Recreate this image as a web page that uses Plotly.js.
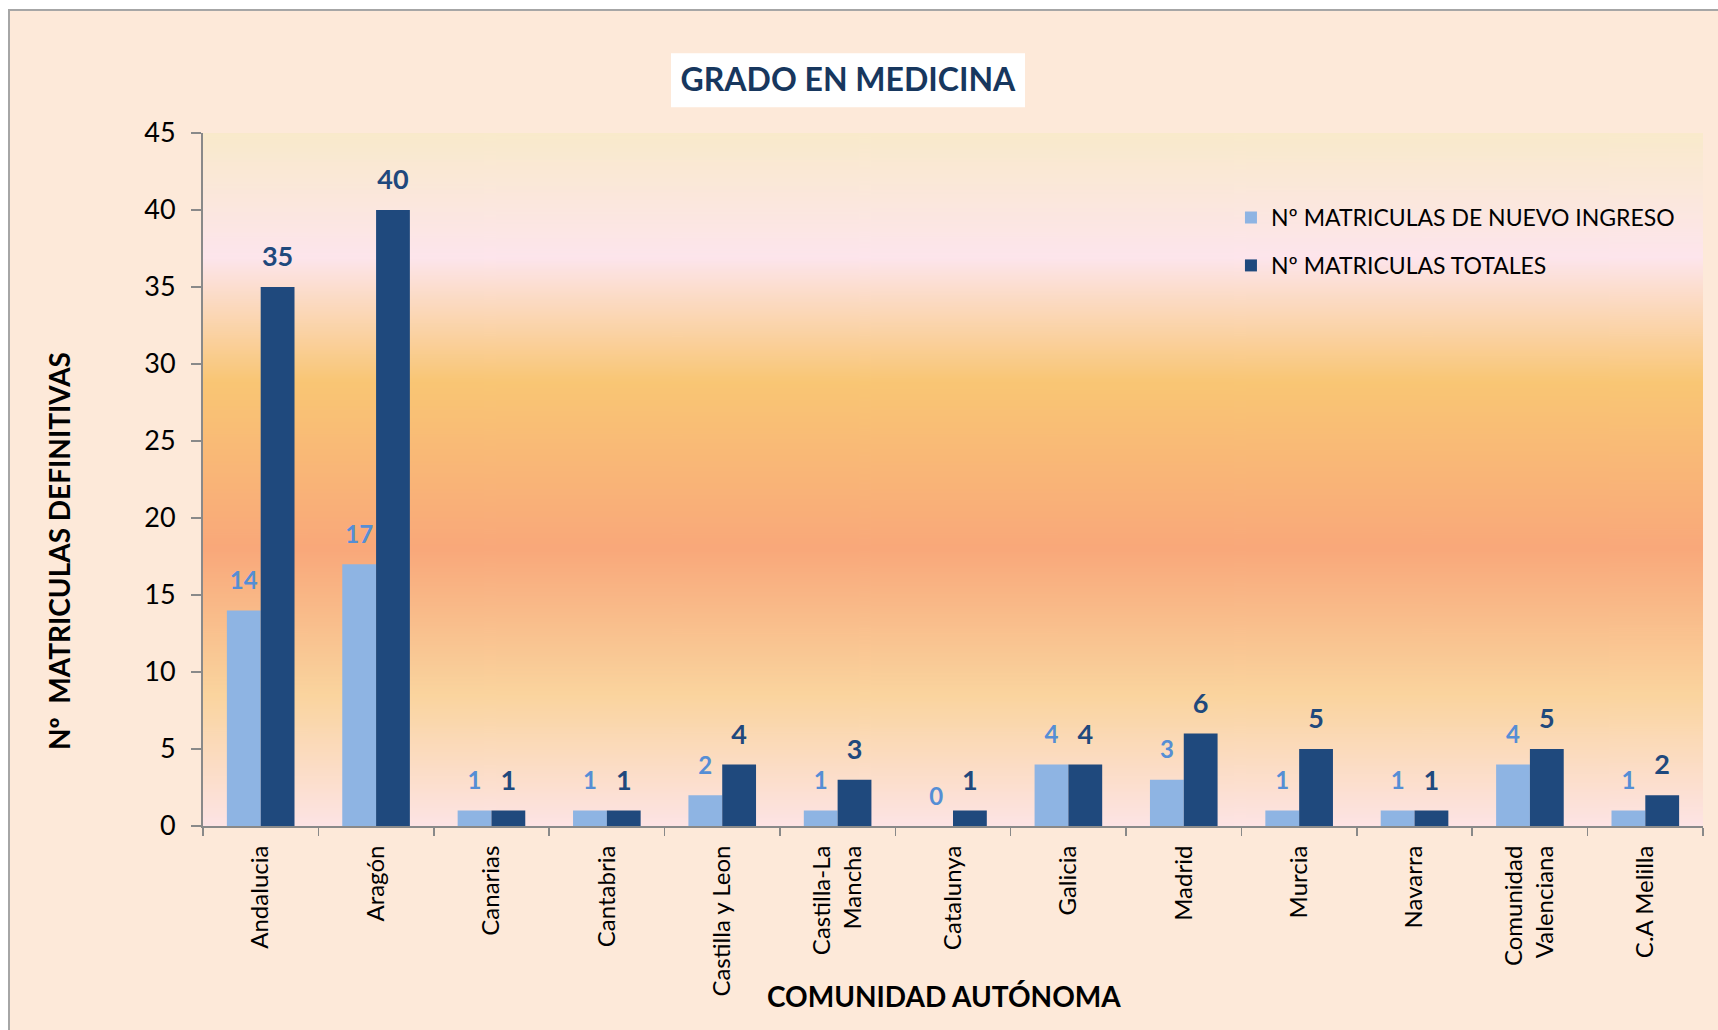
<!DOCTYPE html>
<html>
<head>
<meta charset="utf-8">
<script src="https://cdn.plot.ly/plotly-3.0.1.min.js"></script>
<style>
  html, body { margin: 0; padding: 0; background: #ffffff; }
  #chart {
    position: absolute; left: 8px; top: 9px;
    width: 1708px; height: 1019px;
    border-left: 2px solid #A6A6A6; border-top: 2px solid #A6A6A6;
  }
</style>
</head>
<body>
<div id="chart"></div>
<script>
// ---- data ----
const categories = ['Andalucia', 'Aragón', 'Canarias', 'Cantabria', 'Castilla y Leon',
  'Castilla-La Mancha', 'Catalunya', 'Galicia', 'Madrid', 'Murcia', 'Navarra',
  'Comunidad Valenciana', 'C.A Melilla'];
const tickLabels = ['Andalucia', 'Aragón', 'Canarias', 'Cantabria', 'Castilla y Leon',
  'Castilla-La<br>Mancha', 'Catalunya', 'Galicia', 'Madrid', 'Murcia', 'Navarra',
  'Comunidad<br>Valenciana', 'C.A Melilla'];
const nuevoIngreso = [14, 17, 1, 1, 2, 1, 0, 4, 3, 1, 1, 4, 1];
const totales = [35, 40, 1, 1, 4, 3, 1, 4, 6, 5, 1, 5, 2];
const seriesNames = ['Nº MATRICULAS DE NUEVO INGRESO', 'Nº MATRICULAS TOTALES'];
const yTicks = [0, 5, 10, 15, 20, 25, 30, 35, 40, 45];
const yTitle = 'Nº\u00a0 MATRICULAS DEFINITIVAS';
const xTitle = 'COMUNIDAD AUTÓNOMA';
const chartTitle = 'GRADO EN MEDICINA';

// ---- styles ----
const FONT = 'Lato, "Open Sans", sans-serif';
const LIGHT = '#8EB4E3', DARK = '#1F497D';
const LIGHT_TXT = '#558ED5', DARK_TXT = '#1F497D';
const GAP = 0.414;

// gradient background for plot area
function gradientURL() {
  const c = document.createElement('canvas');
  c.width = 8; c.height = 700;
  const g = c.getContext('2d');
  const lg = g.createLinearGradient(0, 0, 0, 700);
  lg.addColorStop(0.00, '#F9EACB');
  lg.addColorStop(0.18, '#FDE5EC');
  lg.addColorStop(0.36, '#F9C674');
  lg.addColorStop(0.60, '#F9A87A');
  lg.addColorStop(0.81, '#FAD49E');
  lg.addColorStop(1.00, '#FDE4E5');
  g.fillStyle = lg;
  g.fillRect(0, 0, 8, 700);
  return c.toDataURL('image/png');
}

const traces = [
  {
    type: 'bar', name: seriesNames[0], x: categories, y: nuevoIngreso,
    marker: { color: LIGHT, line: { width: 0 } },
    legendgroup: 'a', hoverinfo: 'x+y'
  },
  {
    type: 'bar', name: seriesNames[1], x: categories, y: totales,
    marker: { color: DARK, line: { width: 0 } },
    legendgroup: 'b', hoverinfo: 'x+y'
  },
  {
    type: 'scatter', mode: 'markers+text', x: categories, y: nuevoIngreso,
    text: nuevoIngreso.map(String), textposition: 'top center',
    textfont: { family: FONT, size: 24, color: LIGHT_TXT, weight: 'bold' },
    marker: { size: 23, color: 'rgba(0,0,0,0)' },
    showlegend: false, hoverinfo: 'skip', cliponaxis: false
  },
  {
    type: 'scatter', mode: 'markers+text', x: categories, y: totales,
    text: totales.map(String), textposition: 'top center',
    textfont: { family: FONT, size: 27, color: DARK_TXT, weight: 'bold' },
    marker: { size: 21, color: 'rgba(0,0,0,0)' },
    showlegend: false, hoverinfo: 'skip', cliponaxis: false
  }
];

const layout = {
  width: 1708, height: 1019,
  margin: { l: 193, r: 15, t: 122, b: 204 },
  paper_bgcolor: '#FDE9D9',
  plot_bgcolor: 'rgba(0,0,0,0)',
  font: { family: FONT, color: '#000000' },
  barmode: 'group', bargap: GAP, bargroupgap: 0,
  scattermode: 'group', scattergap: GAP,
  title: {
    text: '<b>' + chartTitle + '</b>',
    font: { family: FONT, size: 32, color: '#17375E' },
    x: 0.4906, xanchor: 'center', xref: 'container',
    y: 0.932, yanchor: 'middle', yref: 'container'
  },
  xaxis: {
    type: 'category',
    tickvals: categories, ticktext: tickLabels,
    tickangle: -90,
    tickfont: { family: FONT, size: 24, color: '#000000' },
    ticks: 'outside', tickson: 'boundaries', ticklen: 8, tickwidth: 1.5, tickcolor: '#898989',
    ticklabelstandoff: 8,
    showline: true, linecolor: '#898989', linewidth: 2,
    showgrid: false, zeroline: false
  },
  yaxis: {
    range: [0, 45], tickvals: yTicks,
    tickfont: { family: FONT, size: 27, color: '#000000' },
    ticks: 'outside', ticklen: 10, tickwidth: 1.5, tickcolor: '#898989',
    ticklabelstandoff: 10,
    showline: true, linecolor: '#898989', linewidth: 2,
    showgrid: false, zeroline: false
  },
  annotations: [
    {
      text: '<b>' + yTitle + '</b>', textangle: -90,
      xref: 'paper', yref: 'paper', x: -0.096, y: 0.3967,
      xanchor: 'center', yanchor: 'middle', showarrow: false,
      font: { family: FONT, size: 28, color: '#000000' }
    },
    {
      text: '<b>' + xTitle + '</b>',
      xref: 'paper', yref: 'paper', x: 0.494, y: -0.246,
      xanchor: 'center', yanchor: 'middle', showarrow: false,
      font: { family: FONT, size: 28, color: '#000000' }
    }
  ],
  legend: {
    x: 0.6853, xanchor: 'left', y: 0.909, yanchor: 'top',
    bgcolor: 'rgba(0,0,0,0)', borderwidth: 0,
    font: { family: FONT, size: 23, color: '#000000' },
    tracegroupgap: 15, traceorder: 'grouped'
  },
  images: [{
    source: gradientURL(), xref: 'paper', yref: 'paper',
    x: 0, y: 1, sizex: 1, sizey: 1, sizing: 'stretch',
    xanchor: 'left', yanchor: 'top', layer: 'below'
  }],
  shapes: [{
    type: 'rect', xref: 'paper', yref: 'paper',
    x0: 0.312, x1: 0.548, y0: 1.037, y1: 1.115,
    fillcolor: '#FFFFFF', line: { width: 0 }, layer: 'below'
  }]
};

Plotly.newPlot('chart', traces, layout, { displayModeBar: false, staticPlot: true });
</script>
</body>
</html>
